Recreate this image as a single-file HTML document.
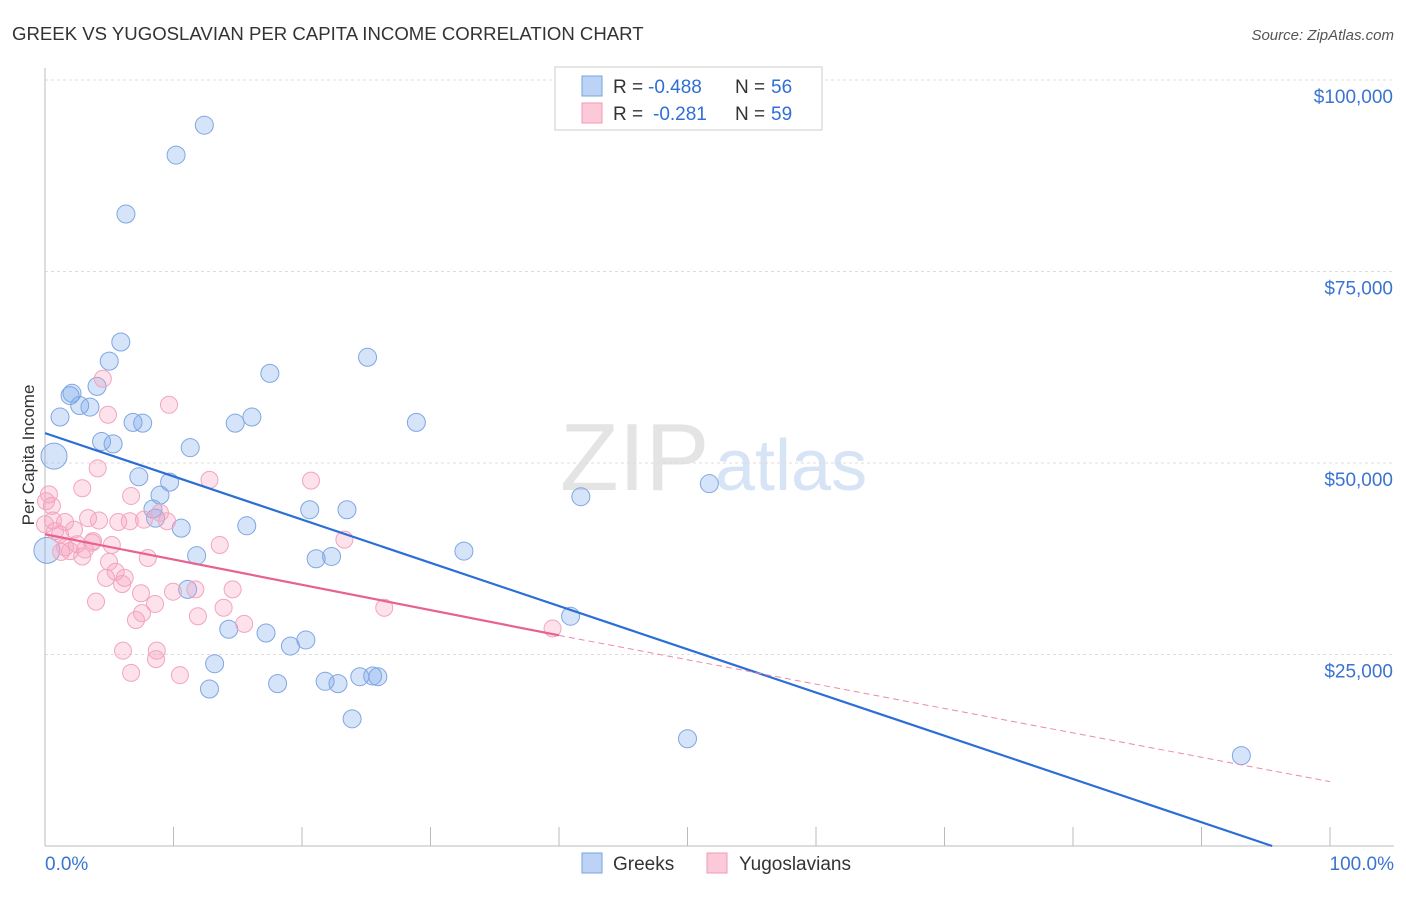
<!DOCTYPE html>
<html><head><meta charset="utf-8">
<style>
body{margin:0;background:#fff;font-family:"Liberation Sans",sans-serif;}
svg text{font-family:"Liberation Sans",sans-serif;}
</style></head>
<body>
<svg id="chart" width="1406" height="892" xmlns="http://www.w3.org/2000/svg">
<text x="12" y="40" font-size="18.6" fill="#333">GREEK VS YUGOSLAVIAN PER CAPITA INCOME CORRELATION CHART</text>
<text x="1394" y="40" font-size="15" fill="#555" text-anchor="end" font-style="italic">Source: ZipAtlas.com</text>
<text x="34" y="455" font-size="17" fill="#333" text-anchor="middle" transform="rotate(-90 34 455)">Per Capita Income</text>
<text x="560" y="490" font-size="96" fill="#e4e4e4" font-family="Liberation Serif">ZIP</text>
<text x="715" y="490" font-size="72" fill="#d6e4f6">atlas</text>
<g id="grid"></g><g id="axes"></g><g id="pts"></g><g id="lines"></g>
<g>
<rect x="555" y="67" width="267" height="63" fill="#fff" stroke="#ccc"/>
<rect x="582" y="76" width="20" height="20" fill="#bcd3f5" stroke="#7aa3e0"/>
<rect x="582" y="103" width="20" height="20" fill="#fbc9d8" stroke="#f09ab5"/>
<text x="613" y="93" font-size="19" fill="#333">R =</text>
<text x="648" y="93" font-size="19" fill="#2f6fd6">-0.488</text>
<text x="735" y="93" font-size="19" fill="#333">N =</text>
<text x="771" y="93" font-size="19" fill="#2f6fd6">56</text>
<text x="613" y="120" font-size="19" fill="#333">R =</text>
<text x="653" y="120" font-size="19" fill="#2f6fd6">-0.281</text>
<text x="735" y="120" font-size="19" fill="#333">N =</text>
<text x="771" y="120" font-size="19" fill="#2f6fd6">59</text>
</g>
<g>
<rect x="582" y="853" width="20" height="20" fill="#bcd3f5" stroke="#7aa3e0"/>
<text x="613" y="870" font-size="19" fill="#333">Greeks</text>
<rect x="707" y="853" width="20" height="20" fill="#fbc9d8" stroke="#f09ab5"/>
<text x="739" y="870" font-size="19" fill="#333">Yugoslavians</text>
</g>
<text x="45" y="870" font-size="19" fill="#3a74d0">0.0%</text>
<text x="1394" y="870" font-size="19" fill="#3a74d0" text-anchor="end">100.0%</text>
</svg>
<script>
const yTicks=[25000,50000,75000,100000];
const yTickLabels=["$25,000","$50,000","$75,000","$100,000"];
const greekX=[12.4,10.2,6.3,5.9,5.0,25.1,17.5,4.05,1.95,2.1,2.7,3.5,1.17,6.85,7.6,16.1,14.8,28.9,4.4,5.3,11.3,0.7,7.3,9.7,8.95,8.4,8.6,41.7,51.7,20.6,23.5,10.6,15.7,32.6,11.8,21.1,22.3,0.15,11.1,40.9,14.3,17.2,20.3,19.1,13.2,12.8,18.1,21.8,22.8,24.5,25.5,25.9,23.9,50.0,93.1];
const greekY=[94100,90200,82500,65800,63300,63800,61700,60000,58800,59100,57500,57300,56000,55300,55200,56000,55200,55300,52800,52500,52000,50900,48200,47500,45800,44000,42800,45600,47300,43900,43900,41500,41800,38500,37900,37500,37800,38600,33500,30000,28300,27800,26900,26100,23800,20500,21200,21500,21200,22100,22200,22100,16600,14000,11800];
const yugoX=[4.5,9.65,4.9,4.1,2.9,0.31,0.54,12.8,20.7,6.7,8.95,0.62,3.35,1.56,4.2,5.7,6.6,7.7,9.5,2.26,1.17,23.3,3.66,2.49,5.2,13.6,1.25,1.95,2.9,8.0,4.98,5.5,4.75,6.2,6.0,14.6,11.7,9.96,7.47,3.97,8.56,13.9,26.4,7.08,11.9,7.55,39.5,15.5,6.07,8.7,8.64,6.7,10.5,0.08,0.78,1.56,3.11,3.74,0.0];
const yugoY=[61000,57600,56300,49300,46700,45900,44400,47800,47700,45700,43500,42500,42800,42300,42500,42300,42400,42600,42400,41300,40700,40000,39600,39400,39300,39300,38400,38500,37800,37600,37100,35800,35000,35000,34200,33500,33500,33200,33000,31900,31600,31100,31100,29500,30000,30400,28400,29000,25500,25500,24400,22600,22300,45000,41100,39000,38700,39800,42000];
const greekTrend=[[0,53900],[95.5,0]];
const yugoTrendSolid=[[0,40700],[40,27500]];
const yugoTrendDash=[[40,27500],[100,8400]];
const X0=45,X1=1330,Y0=846,PXPER=191.5/25000;
const sx=v=>X0+(v/100)*(X1-X0), sy=v=>Y0-v*PXPER;
const NS="http://www.w3.org/2000/svg";
function mk(tag,attrs,parent){const e=document.createElementNS(NS,tag);for(const k in attrs)e.setAttribute(k,attrs[k]);document.getElementById(parent).appendChild(e);return e;}
yTicks.forEach((t,i)=>{
 const g=mk('line',{x1:X0,x2:1394,y1:sy(t),y2:sy(t),stroke:'#ddd','stroke-dasharray':'3,3'},'grid');
 
 
 const l=mk('text',{x:1393,y:sy(t)+23,'font-size':19,fill:'#3a74d0','text-anchor':'end'},'grid');
 l.textContent=yTickLabels[i];
 
 
});
const ax=mk('line',{x1:X0,x2:X0,y1:68,y2:846,stroke:'#bbb'},'axes');


const bx=mk('line',{x1:X0,x2:1394,y1:846,y2:846,stroke:'#bbb'},'axes');


for(let i=0;i<=10;i++){const t=mk('line',{x1:sx(i*10),x2:sx(i*10),y1:827,y2:846,stroke:'#bbb'},'axes');
 
 }
greekX.forEach((x,i)=>{const big=(i==21||i==37);
 const c=mk('circle',{cx:sx(x),cy:sy(greekY[i]),r:big?13:9,fill:'rgba(120,165,235,0.3)',stroke:'#7fa6e3','stroke-width':1},'pts');
 
 });
yugoX.forEach((x,i)=>{
 const c=mk('circle',{cx:sx(x),cy:sy(yugoY[i]),r:8.5,fill:'rgba(248,160,190,0.3)',stroke:'#f2a5be','stroke-width':1},'pts');
 
 });
const gl=mk('line',{x1:sx(greekTrend[0][0]),y1:sy(greekTrend[0][1]),x2:sx(greekTrend[1][0]),y2:sy(greekTrend[1][1]),stroke:'#2b6fd6','stroke-width':2.2},'lines');


const yl=mk('line',{x1:sx(yugoTrendSolid[0][0]),y1:sy(yugoTrendSolid[0][1]),x2:sx(yugoTrendSolid[1][0]),y2:sy(yugoTrendSolid[1][1]),stroke:'#e8628f','stroke-width':2.2},'lines');


const yd=mk('line',{x1:sx(yugoTrendDash[0][0]),y1:sy(yugoTrendDash[0][1]),x2:sx(yugoTrendDash[1][0]),y2:sy(yugoTrendDash[1][1]),stroke:'#eb8aaa','stroke-width':1,'stroke-dasharray':'6,4'},'lines');


</script>
</body></html>
